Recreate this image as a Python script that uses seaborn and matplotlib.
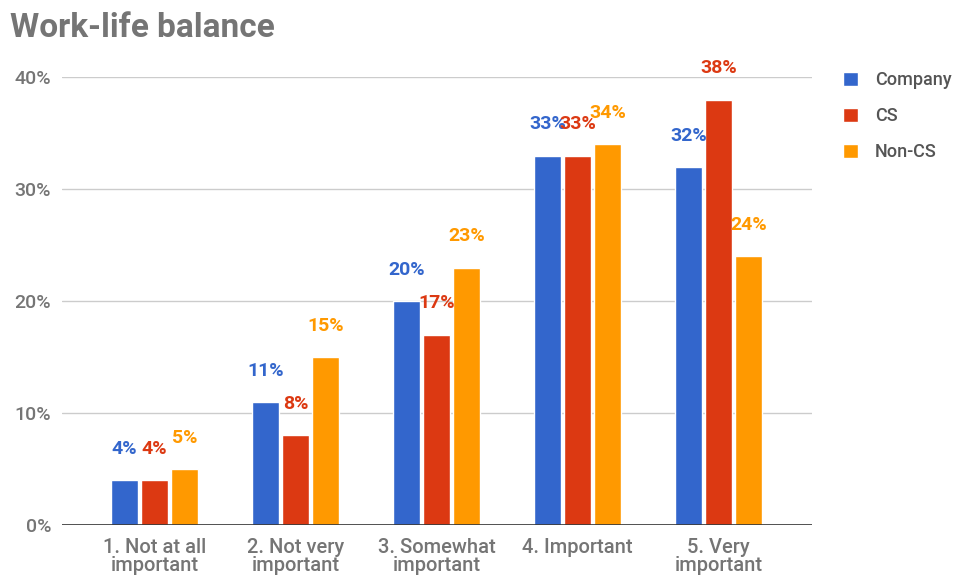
import matplotlib
matplotlib.use("Agg")
import matplotlib.pyplot as plt
import seaborn as sns
import pandas as pd

categories = ["1. Not at all\nimportant", "2. Not very\nimportant", "3. Somewhat\nimportant",
              "4. Important", "5. Very\nimportant"]
company = [4, 11, 20, 33, 32]
cs = [4, 8, 17, 33, 38]
non_cs = [5, 15, 23, 34, 24]
series = ["Company", "CS", "Non-CS"]
colors = ["#3366CC", "#DC3912", "#FF9900"]
yticks = [0, 10, 20, 30, 40]

df = pd.DataFrame({
    "category": categories * 3,
    "value": company + cs + non_cs,
    "group": [s for s in series for _ in categories],
})

sns.set_theme(style="white")
plt.rcParams["font.family"] = ["Roboto", "DejaVu Sans"]

fig = plt.figure(figsize=(9.71, 5.76), dpi=100)
ax = fig.add_axes([0.064, 0.0885, 0.772, 0.7775])

sns.barplot(data=df, x="category", y="value", hue="group", palette=colors,
            width=0.64, gap=0.1, ax=ax, saturation=1, legend=True)

ax.set_ylim(0, 40)
ax.set_xlim(-0.656, 4.66)
ax.set_yticks(yticks)
ax.set_yticklabels([f"{t}%" for t in yticks], color="#757575", fontsize=14,
                   fontweight="medium")
ax.tick_params(axis="y", length=0, pad=8)
ax.tick_params(axis="x", length=0, pad=9)
for lbl in ax.get_xticklabels():
    lbl.set_color("#757575")
    lbl.set_fontsize(14.5)
    lbl.set_fontweight("medium")
    lbl.set_linespacing(0.95)
ax.set_xlabel("")
ax.set_ylabel("")
for t in yticks[1:]:
    ax.axhline(t, color="#cccccc", lw=1, zorder=0)
ax.axhline(0, color="#333333", lw=1.2, zorder=3)
for s in ax.spines.values():
    s.set_visible(False)

# value labels above each bar, in the bar's colour
for container, col in zip(ax.containers, colors):
    for bar in container:
        h = bar.get_height()
        ax.annotate(f"{h:.0f}%", (bar.get_x() + bar.get_width() / 2, h),
                    xytext=(0, 22.5), textcoords="offset points",
                    ha="center", va="center", color=col, fontsize=14,
                    fontweight="bold", annotation_clip=False)

leg = ax.legend(loc="upper left", bbox_to_anchor=(0.851, 0.905),
                bbox_transform=fig.transFigure, frameon=False,
                prop={"size": 13, "weight": "medium"},
                handlelength=0.85, handleheight=0.85, handletextpad=0.95,
                labelspacing=1.0)
for t in leg.get_texts():
    t.set_color("#555555")

fig.text(0.010, 0.951, "Work-life balance", fontsize=24, fontweight="bold",
         color="#757575", ha="left", va="center")

fig.savefig("out.png", dpi=100)
